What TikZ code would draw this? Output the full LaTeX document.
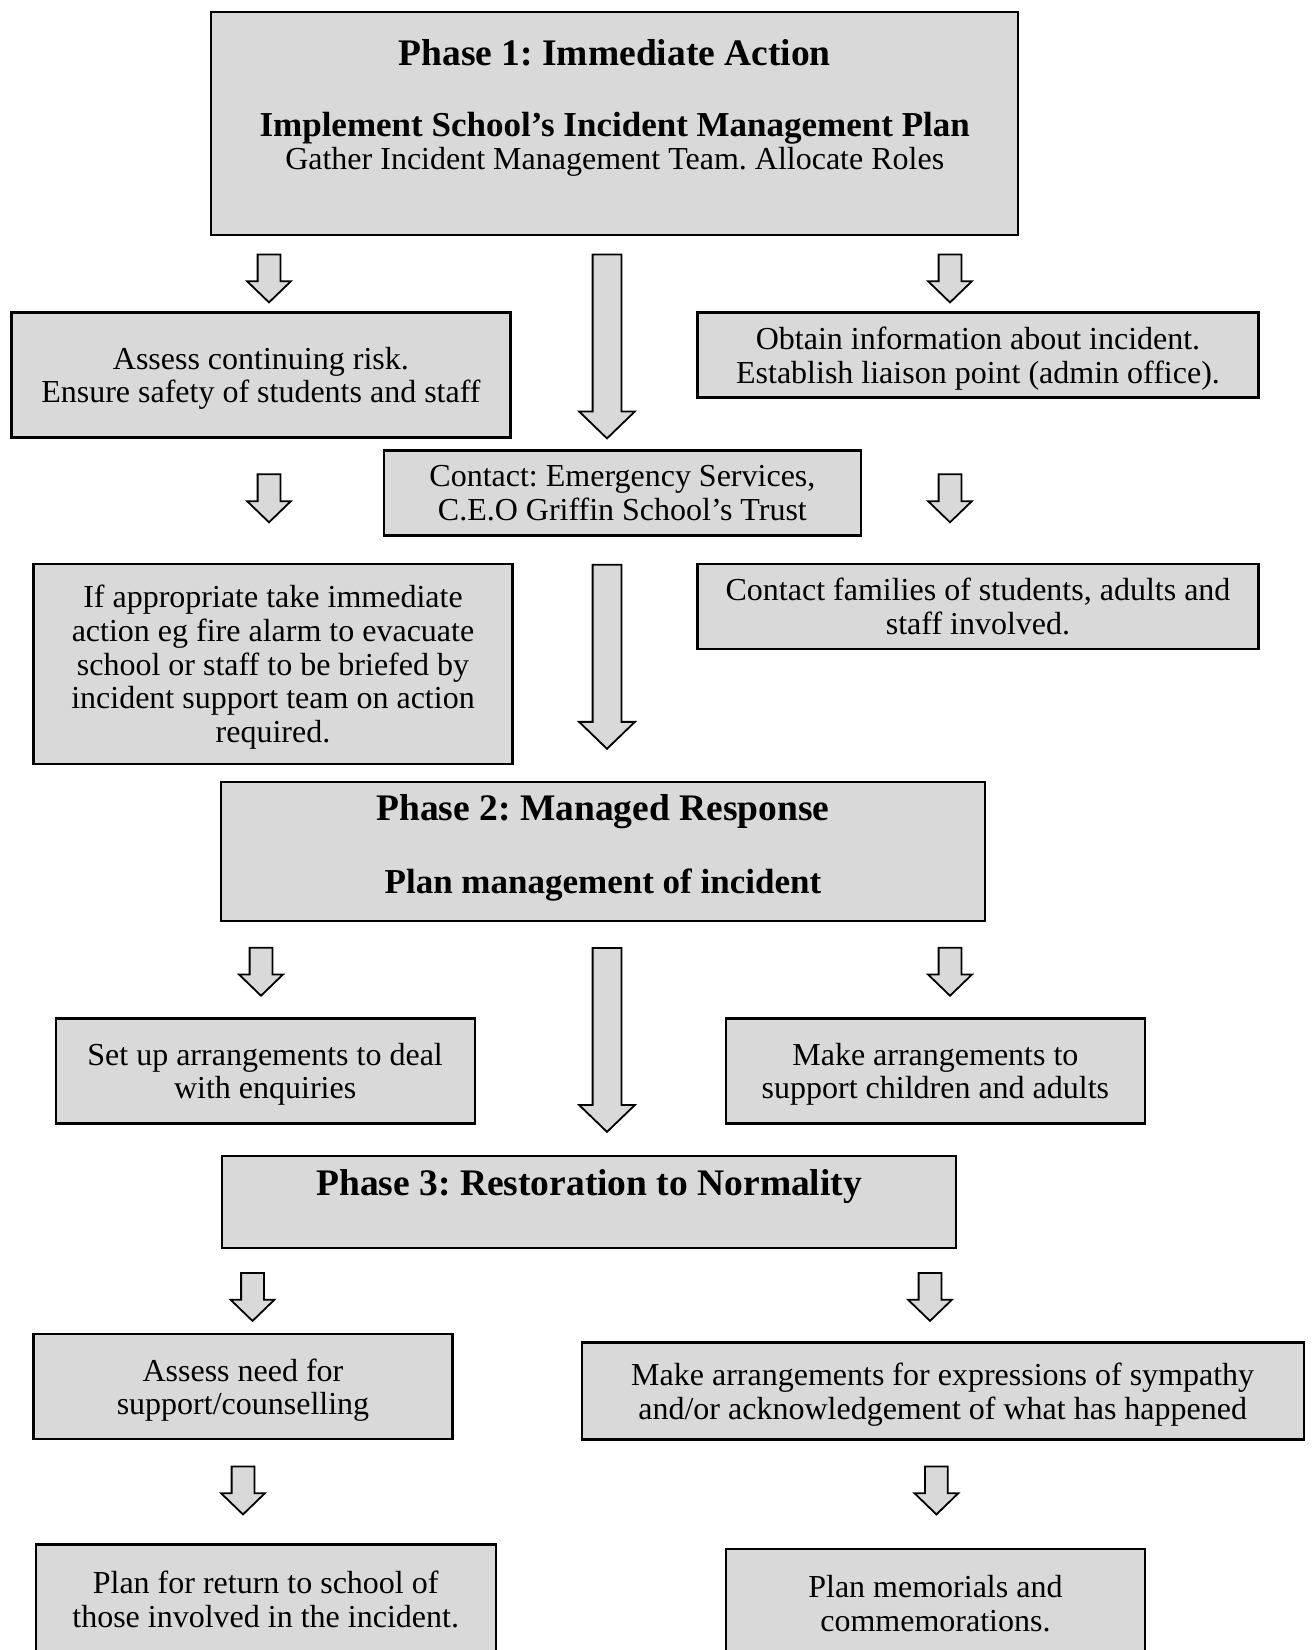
\documentclass[tikz,border=0pt]{standalone}
\usepackage{fontspec}
\setmainfont{Liberation Serif}
\usepackage{tikz}
\usetikzlibrary{shapes.arrows}
\definecolor{boxgray}{HTML}{D9D9D9}
\frenchspacing

\begin{document}
\begin{tikzpicture}[x=1pt,y=-1pt,
    box/.style={draw=black, line width=2.2pt, fill=boxgray, inner sep=0pt,
        align=center, font=\fontsize{32}{33.7}\selectfont, text depth=-1pt},
    phasetitle/.style={anchor=base, font=\fontsize{37.5}{38}\selectfont\bfseries},
    title/.style={anchor=base, font=\fontsize{35}{36}\selectfont\bfseries},
    body/.style={anchor=base, font=\fontsize{32}{33.7}\selectfont},
    downarrow/.style={single arrow, draw=black, line width=1.8pt, fill=boxgray,
        inner xsep=0pt, rotate=-90, anchor=tail, single arrow tip angle=92},
    shortarrow/.style={downarrow, minimum height=48pt, inner ysep=10.5pt,
        single arrow head extend=10.5pt},
    longarrow/.style={downarrow, minimum height=184pt, inner ysep=13.5pt,
        single arrow head extend=13.5pt}]

    \useasboundingbox (0,0) rectangle (1312,1650);
    \clip (0,0) rectangle (1312,1650);

    % Phase 1
    \node[box, minimum width=807pt, minimum height=223pt] (p1) at (614.7,123.1) {};
    \node[phasetitle] (p1a) at (614.7,65.7) {Phase 1: Immediate Action};
    \node[title] (p1b) at (614.7,136.7) {Implement School’s Incident Management Plan};
    \node[body] (p1c) at (614.7,169.3) {Gather Incident Management Team. Allocate Roles};

    \node[box, minimum width=499pt, minimum height=125pt] (risk) at (260.9,375)
        {Assess continuing risk.\\Ensure safety of students and staff};
    \node[box, minimum width=561pt, minimum height=85pt] (info) at (978,355)
        {Obtain information about incident.\\Establish liaison point (admin office).};
    \node[box, minimum width=477pt, minimum height=85pt] (contact) at (622.4,492.9)
        {Contact: Emergency Services,\\C.E.O Griffin School’s Trust};
    \node[box, minimum width=479pt, minimum height=200pt] (action) at (273,663.9)
        {If appropriate take immediate\\action eg fire alarm to evacuate\\school or staff to be briefed by\\incident support team on action\\required.};
    \node[box, minimum width=561pt, minimum height=85pt] (families) at (978,606.5)
        {Contact families of students, adults and\\staff involved.};

    % Phase 2
    \node[box, minimum width=764pt, minimum height=139pt] (p2) at (602.9,851.2) {};
    \node[phasetitle] (p2a) at (602.9,820) {Phase 2: Managed Response};
    \node[title] (p2b) at (602.9,893) {Plan management of incident};

    \node[box, minimum width=419pt, minimum height=105pt] (enquiries) at (265.1,1071)
        {Set up arrangements to deal\\with enquiries};
    \node[box, minimum width=419pt, minimum height=105pt] (support) at (935.4,1071)
        {Make arrangements to\\support children and adults};

    % Phase 3
    \node[box, minimum width=734pt, minimum height=92pt] (p3) at (589.2,1202) {};
    \node[phasetitle] (p3a) at (589.2,1195) {Phase 3: Restoration to Normality};

    \node[box, minimum width=419pt, minimum height=105pt] (counsel) at (243,1386.7)
        {Assess need for\\support/counselling};
    \node[box, minimum width=722pt, minimum height=97pt] (sympathy) at (942.7,1390.9)
        {Make arrangements for expressions of sympathy\\and/or acknowledgement of what has happened};
    \node[box, minimum width=460pt, minimum height=110pt] (returnplan) at (265.7,1599.5)
        {Plan for return to school of\\those involved in the incident.};
    \node[box, minimum width=419pt, minimum height=110pt] (memorials) at (935.4,1603.7)
        {Plan memorials and\\commemorations.};

    % Arrows
    \node[shortarrow] (a1) at (269,253.5) {};
    \node[longarrow] (a2) at (607,253.5) {};
    \node[shortarrow] (a3) at (950,253.5) {};
    \node[shortarrow] (a4) at (269,473.4) {};
    \node[shortarrow] (a5) at (950,473.4) {};
    \node[longarrow] (a6) at (607,563.9) {};
    \node[shortarrow] (a7) at (261,946.8) {};
    \node[longarrow] (a8) at (607,947) {};
    \node[shortarrow] (a9) at (950,946.8) {};
    \node[shortarrow] (a10) at (252.5,1272) {};
    \node[shortarrow] (a11) at (930,1272) {};
    \node[shortarrow] (a12) at (243,1465.5) {};
    \node[shortarrow] (a13) at (936.4,1465.5) {};

\end{tikzpicture}
\end{document}
